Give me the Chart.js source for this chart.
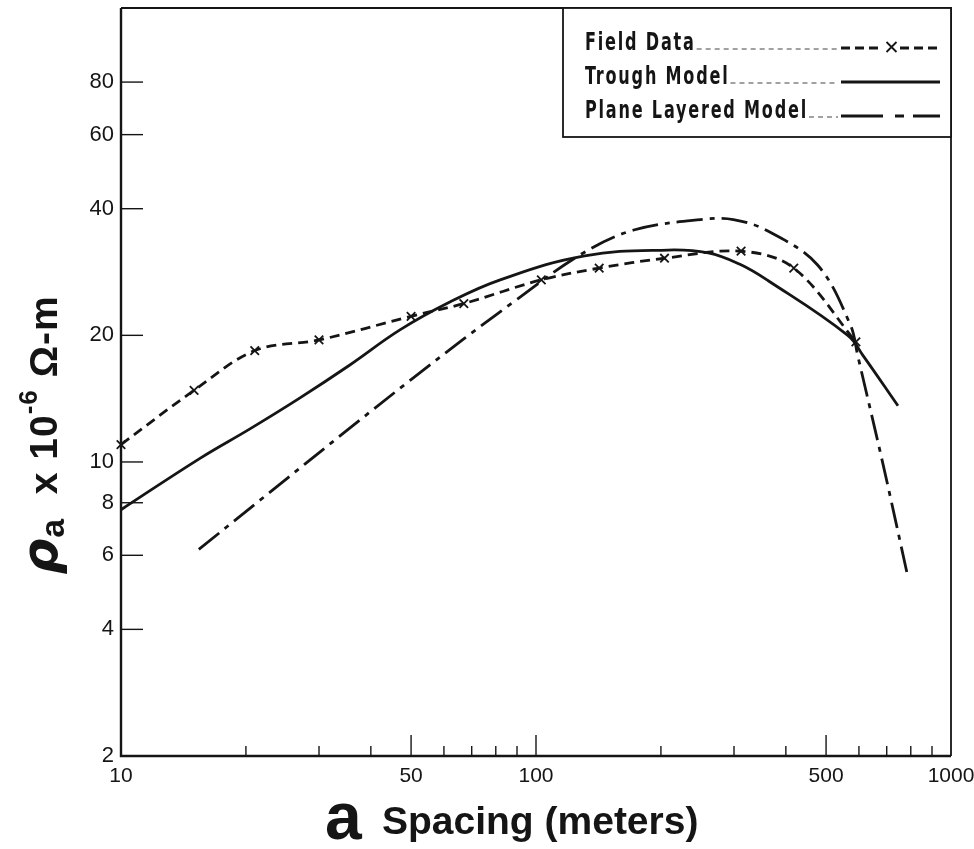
<!DOCTYPE html>
<html><head><meta charset="utf-8">
<script src="https://cdn.jsdelivr.net/npm/chart.js@4.4.1/dist/chart.umd.min.js"></script>
<style>html,body{margin:0;padding:0;background:#fff}#wrap{width:974px;height:849px}</style>
</head><body><div id="wrap"><canvas id="c" width="974" height="849"></canvas></div>
<script>
// ---- data (a spacing in metres, apparent resistivity) ----
const fieldSpacing = [10, 15, 21, 30, 50, 67, 103, 142, 204, 312, 418, 590];
const fieldRho     = [11.0, 14.8, 18.4, 19.5, 22.2, 23.8, 27.1, 28.9, 30.5, 31.7, 28.9, 19.3];
const troughSpacing = [10, 15.5, 20.5, 27, 35.6, 47, 62, 82, 131, 208, 260, 310, 362, 564, 614, 745];
const troughRho     = [7.7, 10.2, 12.0, 14.2, 17.0, 20.6, 24.0, 27.1, 30.9, 31.9, 31.4, 29.5, 27.0, 20.0, 17.9, 13.6];
const planeSpacing = [15.4, 50, 90.7, 130, 172, 249, 299, 362, 477, 573, 596, 687, 785];
const planeRho     = [6.2, 15.7, 24.5, 31.4, 35.6, 37.7, 37.7, 35.4, 29.4, 21.1, 17.9, 9.8, 5.4];

const xTickValues = [10,20,30,40,50,60,70,80,90,100,200,300,400,500,600,700,800,900,1000];
const xTickLabels = ['10','','','','50','','','','','100','','','','500','','','','','1000'];
const xMajorTicks = [50,100,500];
const yTickValues = [2,4,6,8,10,20,40,60,80];
const yTickLabels = ['2','4','6','8','10','20','40','60','80'];
const seriesNames = ['Field Data','Trough Model','Plane Layered Model'];

const INK = '#151515';
const FONT = "'Liberation Sans', Arial, Helvetica, sans-serif";
const NARROW = "'Liberation Sans Narrow', 'DejaVu Sans Condensed', 'Liberation Sans', sans-serif";

const toPts = (xs, ys) => xs.map((a, i) => ({x: a, y: ys[i]}));
const noPad = s => { s.paddingLeft = 0; s.paddingRight = 0; s.paddingTop = 0; s.paddingBottom = 0; };

const overlay = {
  id: 'overlay',
  beforeDraw(chart) {
    const {ctx, width, height} = chart;
    ctx.save(); ctx.fillStyle = '#fff'; ctx.fillRect(0, 0, width, height); ctx.restore();
  },
  afterDraw(chart) {
    const {ctx, chartArea: a, scales: {x, y}} = chart;
    const ds = chart.data.datasets;
    ctx.save();
    ctx.strokeStyle = INK; ctx.fillStyle = INK; ctx.lineCap = 'butt'; ctx.setLineDash([]);
    // frame
    ctx.lineWidth = 1.8;
    ctx.beginPath(); ctx.moveTo(a.left, a.top); ctx.lineTo(a.right, a.top); ctx.lineTo(a.right, a.bottom); ctx.stroke();
    ctx.lineWidth = 2.4;
    ctx.beginPath(); ctx.moveTo(a.left, a.top); ctx.lineTo(a.left, a.bottom); ctx.lineTo(a.right, a.bottom); ctx.stroke();
    // inward ticks
    ctx.lineWidth = 1.4;
    yTickValues.forEach(v => {
      if (v === yTickValues[0]) return;
      const py = y.getPixelForValue(v);
      ctx.beginPath(); ctx.moveTo(a.left, py); ctx.lineTo(a.left + 22, py); ctx.stroke();
    });
    xTickValues.forEach(v => {
      if (v === xTickValues[0] || v === xTickValues[xTickValues.length - 1]) return;
      const px = x.getPixelForValue(v);
      const len = xMajorTicks.includes(v) ? 21 : 10;
      ctx.beginPath(); ctx.moveTo(px, a.bottom); ctx.lineTo(px, a.bottom - len); ctx.stroke();
    });

    // legend box
    const L = {left: 563, top: a.top, right: a.right, bottom: 137};
    ctx.fillStyle = '#fff';
    ctx.fillRect(L.left, L.top, L.right - L.left, L.bottom - L.top);
    ctx.lineWidth = 1.8; ctx.strokeStyle = INK;
    ctx.strokeRect(L.left, L.top, L.right - L.left, L.bottom - L.top);

    ctx.fillStyle = INK;
    ctx.font = "bold 25px " + NARROW;
    ctx.letterSpacing = '2.5px';
    ctx.textBaseline = 'alphabetic'; ctx.textAlign = 'left';
    const kx = 223 / ctx.measureText(seriesNames[2]).width;
    const baselines = [50, 84, 118];
    const sx0 = 841, sx1 = 940;
    seriesNames.forEach((name, i) => {
      const by = baselines[i];
      const tw = ctx.measureText(name).width * kx;
      ctx.save();
      ctx.translate(585, by); ctx.scale(kx, 1);
      ctx.fillText(name, 0, 0);
      ctx.restore();
      // dotted leader
      ctx.save();
      ctx.strokeStyle = '#444'; ctx.lineWidth = 1.1; ctx.setLineDash([5, 4]);
      ctx.beginPath(); ctx.moveTo(585 + tw + 1, by - 1); ctx.lineTo(sx0 - 3, by - 1); ctx.stroke();
      ctx.restore();
      // sample line
      const d = ds[i];
      const ly = by - 2;
      ctx.save();
      ctx.strokeStyle = d.borderColor; ctx.lineWidth = d.borderWidth;
      if (i === 0) {
        ctx.setLineDash([9, 5]);
        ctx.beginPath(); ctx.moveTo(sx0, ly); ctx.lineTo(sx0 + 38, ly); ctx.stroke();
        ctx.beginPath(); ctx.moveTo(sx1 - 40, ly); ctx.lineTo(sx1, ly); ctx.stroke();
        ctx.setLineDash([]); ctx.lineWidth = 1.8;
        const cx = (sx0 + sx1) / 2 + 1, r = 5;
        ctx.beginPath(); ctx.moveTo(cx - r, ly - r - 1); ctx.lineTo(cx + r, ly + r - 1);
        ctx.moveTo(cx + r, ly - r - 1); ctx.lineTo(cx - r, ly + r - 1); ctx.stroke();
      } else if (i === 1) {
        ctx.beginPath(); ctx.moveTo(sx0, ly); ctx.lineTo(sx1, ly); ctx.stroke();
      } else {
        ctx.setLineDash([42, 12, 9, 9, 30]);
        ctx.beginPath(); ctx.moveTo(sx0, ly); ctx.lineTo(sx1, ly); ctx.stroke();
      }
      ctx.restore();
    });
    ctx.letterSpacing = '0px';

    // x-axis title
    ctx.fillStyle = INK; ctx.textBaseline = 'alphabetic'; ctx.textAlign = 'left';
    ctx.font = "bold 66px " + FONT;
    ctx.fillText('a', 325, 839);
    ctx.font = "bold 36px " + FONT;
    const sp = 'Spacing (meters)';
    const spw = ctx.measureText(sp).width;
    const fs = Math.round(36 * 318 / spw);
    ctx.font = "bold " + fs + "px " + FONT;
    ctx.fillText(sp, 382, 834);

    // y-axis title (rotated)
    ctx.save();
    ctx.translate(57, 435);
    ctx.rotate(-Math.PI / 2);
    ctx.letterSpacing = '1px';
    const segs = [
      {t: 'ρ', f: "bold italic 50px 'DejaVu Sans', " + FONT, dy: 0},
      {t: 'a', f: "bold 34px " + FONT, dy: 7},
      {t: '  x 10', f: "bold 39px " + FONT, dy: 0},
      {t: '-6', f: "bold 26px " + FONT, dy: -20},
      {t: ' Ω-m', f: "bold 39px " + FONT, dy: 0}
    ];
    let total = 0;
    segs.forEach(s => { ctx.font = s.f; s.w = ctx.measureText(s.t).width; total += s.w; });
    let cx = -total / 2;
    segs.forEach(s => { ctx.font = s.f; ctx.fillText(s.t, cx, s.dy); cx += s.w; });
    ctx.restore();

    ctx.restore();
  }
};

new Chart(document.getElementById('c'), {
  type: 'scatter',
  data: {
    datasets: [
      { label: seriesNames[0], data: toPts(fieldSpacing, fieldRho), showLine: true,
        borderColor: INK, borderWidth: 2.8, borderDash: [10, 6],
        pointStyle: 'crossRot', pointRadius: 6, pointBorderWidth: 1.8, pointBorderColor: INK,
        pointBackgroundColor: INK, tension: 0.35, clip: false },
      { label: seriesNames[1], data: toPts(troughSpacing, troughRho), showLine: true,
        borderColor: INK, borderWidth: 2.8, pointRadius: 0, tension: 0.4 },
      { label: seriesNames[2], data: toPts(planeSpacing, planeRho), showLine: true,
        borderColor: INK, borderWidth: 2.8, borderDash: [26, 7, 5, 7], pointRadius: 0,
        tension: 0.35 }
    ]
  },
  options: {
    responsive: false, animation: false, devicePixelRatio: 1,
    layout: {padding: {left: 0, right: 23, top: 8, bottom: 0}},
    plugins: {legend: {display: false}, tooltip: {enabled: false}},
    scales: {
      x: {
        type: 'logarithmic', min: 10, max: 1000,
        afterBuildTicks: s => { s.ticks = xTickValues.map(v => ({value: v})); },
        afterFit: s => { s.height = 93; noPad(s); },
        grid: {display: false, drawTicks: false}, border: {display: false},
        ticks: {
          autoSkip: false, maxRotation: 0, minRotation: 0, padding: 8, color: INK,
          font: {family: FONT, size: 21},
          callback: (v) => xTickLabels[xTickValues.indexOf(v)] ?? ''
        }
      },
      y: {
        type: 'logarithmic', min: 2, max: 120,
        afterBuildTicks: s => { s.ticks = yTickValues.map(v => ({value: v})); },
        afterFit: s => { s.width = 121; noPad(s); },
        grid: {display: false, drawTicks: false}, border: {display: false},
        ticks: {
          autoSkip: false, padding: 7, color: INK,
          font: {family: FONT, size: 22},
          callback: (v) => yTickLabels[yTickValues.indexOf(v)] ?? ''
        }
      }
    }
  },
  plugins: [overlay]
});
</script>
</body></html>
